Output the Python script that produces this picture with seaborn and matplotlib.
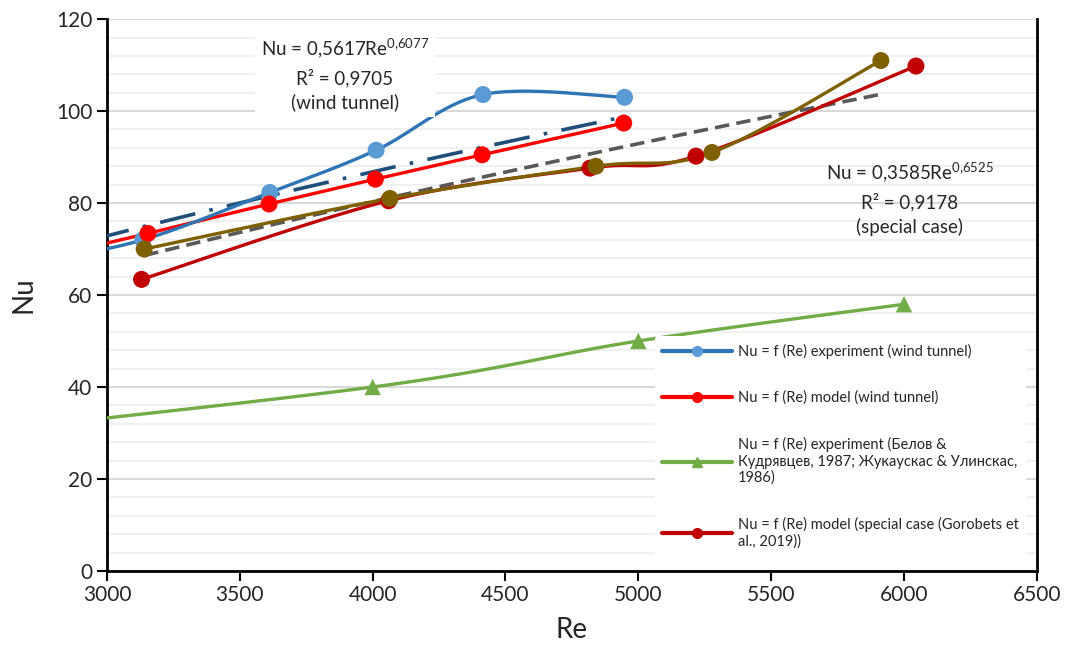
import numpy as np
import matplotlib
matplotlib.use("Agg")
import matplotlib.pyplot as plt
from matplotlib.lines import Line2D
import seaborn as sns

# --- data ---
# wind tunnel experiment (first point lies left of the visible axis)
re_exp_wt = [2700, 3135, 3613, 4013, 4415, 4948]
nu_exp_wt = [66.8, 72.0, 82.3, 91.5, 103.6, 103.0]

# wind tunnel model
re_mod_wt = [2700, 3154, 3610, 4010, 4412, 4945]
nu_mod_wt = [67.2, 73.4, 79.8, 85.2, 90.5, 97.4]

# literature experiment (Belov & Kudryavtsev; Zhukauskas & Ulinskas)
re_lit = [2000, 4000, 5000, 6000]
nu_lit = [27.0, 40.0, 50.0, 58.0]

# special case model (Gorobets et al., 2019)
re_mod_sc = [3130, 4060, 4818, 5217, 6045]
nu_mod_sc = [63.4, 80.5, 87.6, 90.2, 109.8]

# special case experiment
re_exp_sc = [3140, 4065, 4840, 5277, 5913]
nu_exp_sc = [70.0, 81.0, 88.0, 91.0, 111.0]

# power trendlines printed on the chart: Nu = a * Re^b, R²
fit_wt = (0.5617, 0.6077, 0.9705)
fit_sc = (0.3585, 0.6525, 0.9178)

x_ticks = [3000, 3500, 4000, 4500, 5000, 5500, 6000, 6500]
y_ticks = [0, 20, 40, 60, 80, 100, 120]

legend_labels = [
    "Nu = f (Re) experiment (wind tunnel)",
    "Nu = f (Re) model (wind tunnel)",
    "Nu = f (Re) experiment (Белов &\nКудрявцев, 1987; Жукаускас & Улинскас,\n1986)",
    "Nu = f (Re) model (special case (Gorobets et\nal., 2019))",
]


def smooth(x, y, n=30):
    # Excel-style smoothed line (Bezier through the points)
    p = np.column_stack([x, y]).astype(float)
    out = []
    for i in range(len(p) - 1):
        p0 = p[i - 1] if i > 0 else p[i]
        p3 = p[i + 2] if i + 2 < len(p) else p[i + 1]
        c1 = p[i] + (p[i + 1] - p0) / 6
        c2 = p[i + 1] - (p3 - p[i]) / 6
        t = np.linspace(0, 1, n)[:, None]
        seg = (1 - t) ** 3 * p[i] + 3 * (1 - t) ** 2 * t * c1 + 3 * (1 - t) * t ** 2 * c2 + t ** 3 * p[i + 1]
        out.append(seg if i == 0 else seg[1:])
    out = np.vstack(out)
    return out[:, 0], out[:, 1]


def trend(re, fit):
    xs = np.linspace(min(re), max(re), 100)
    return xs, fit[0] * xs ** fit[1]


def fit_label(fit, name):
    a = str(fit[0]).replace('.', ',')
    b = str(fit[1]).replace('.', '{,}')
    r2 = str(fit[2]).replace('.', ',')
    return "Nu = %sRe$^{\\mathrm{%s}}$\nR² = %s\n(%s)" % (a, b, r2, name)


sns.set_style("white")
plt.rcParams['font.family'] = ['Lato', 'DejaVu Sans']
plt.rcParams['mathtext.fontset'] = 'custom'
plt.rcParams['mathtext.rm'] = 'Lato'

fig, ax = plt.subplots(figsize=(10.7, 6.6), dpi=100)
fig.subplots_adjust(left=0.1, right=0.969, bottom=0.135, top=0.971)

# gridlines
ax.set_yticks(np.arange(0, 121, 4), minor=True)
ax.yaxis.grid(True, which='minor', color='#f0f0f0', lw=1.5, zorder=0)
ax.yaxis.grid(True, which='major', color='#d9d9d9', lw=1.5, zorder=0)
ax.set_axisbelow(True)

c_blue, c_blue_m = '#2e75b6', '#5b9bd5'
c_red = '#ff0000'
c_green = '#70ad47'
c_dred = '#c00000'
c_olive = '#7f6000'
lw = 2.4
ms = 150

# trendlines
tx, ty = trend(re_exp_wt, fit_wt)
ax.plot(tx, ty, color='#1f4e79', lw=2.6, dashes=(10, 4, 1, 4), zorder=3)
tx, ty = trend(re_exp_sc, fit_sc)
ax.plot(tx, ty, color='#595959', lw=2.6, dashes=(4, 2), zorder=3)

# series
sx, sy = smooth(re_lit, nu_lit)
sns.lineplot(x=sx, y=sy, color=c_green, lw=lw, sort=False, estimator=None, ax=ax, zorder=4)
sns.scatterplot(x=re_lit, y=nu_lit, color=c_green, marker='^', s=140, edgecolor='none', ax=ax, zorder=5)

sns.lineplot(x=re_mod_wt, y=nu_mod_wt, color=c_red, lw=lw, sort=False, estimator=None, ax=ax, zorder=4)
sns.scatterplot(x=re_mod_wt, y=nu_mod_wt, color=c_red, s=ms, edgecolor='none', ax=ax, zorder=5)

sx, sy = smooth(re_exp_wt, nu_exp_wt)
sns.lineplot(x=sx, y=sy, color=c_blue, lw=lw, sort=False, estimator=None, ax=ax, zorder=4)
sns.scatterplot(x=re_exp_wt, y=nu_exp_wt, color=c_blue_m, s=ms, edgecolor='none', ax=ax, zorder=4.5)

sx, sy = smooth(re_mod_sc, nu_mod_sc)
sns.lineplot(x=sx, y=sy, color=c_dred, lw=lw, sort=False, estimator=None, ax=ax, zorder=4)
sns.scatterplot(x=re_mod_sc, y=nu_mod_sc, color=c_dred, s=ms, edgecolor='none', ax=ax, zorder=5)

sx, sy = smooth(re_exp_sc, nu_exp_sc)
sns.lineplot(x=sx, y=sy, color=c_olive, lw=lw, sort=False, estimator=None, ax=ax, zorder=4)
sns.scatterplot(x=re_exp_sc, y=nu_exp_sc, color=c_olive, s=ms, edgecolor='none', ax=ax, zorder=5)

# fit labels
ax.text(3895, 108, fit_label(fit_wt, "wind tunnel"),
        ha='center', va='center', fontsize=13.5, linespacing=1.45, zorder=6,
        bbox=dict(fc='white', ec='none', pad=4))
ax.text(6022, 81, fit_label(fit_sc, "special case"),
        ha='center', va='center', fontsize=13.5, linespacing=1.45, zorder=6)

# axes
ax.set_xlim(x_ticks[0], x_ticks[-1])
ax.set_ylim(y_ticks[0], y_ticks[-1])
ax.set_xticks(x_ticks)
ax.set_yticks(y_ticks)
ax.tick_params(axis='both', which='major', direction='out', length=7, width=1.5,
               labelsize=15, color='black', left=True, bottom=True)
ax.tick_params(axis='y', which='minor', length=0)
ax.set_xlabel("Re", fontsize=20, labelpad=8)
ax.set_ylabel("Nu", fontsize=20, labelpad=14)
for side in ['left', 'bottom', 'right']:
    ax.spines[side].set_color('black')
    ax.spines[side].set_linewidth(2)
ax.spines['top'].set_visible(False)

# legend
handles = [
    Line2D([], [], color=c_blue, lw=3, marker='o', markersize=7, markerfacecolor=c_blue_m, markeredgecolor=c_blue_m),
    Line2D([], [], color=c_red, lw=3, marker='o', markersize=7, markeredgecolor=c_red),
    Line2D([], [], color=c_green, lw=3, marker='^', markersize=7, markeredgecolor=c_green),
    Line2D([], [], color=c_dred, lw=3, marker='o', markersize=7, markeredgecolor=c_dred),
]
leg = ax.legend(handles, legend_labels, loc='upper left', bbox_to_anchor=(0.589, 0.425),
                borderaxespad=0, frameon=True, facecolor='white', edgecolor='none', framealpha=1,
                fontsize=10.5, handlelength=4.8, handletextpad=0.4, labelspacing=2.2, borderpad=0.5)
leg.set_zorder(7)

fig.savefig("out.png", dpi=100)
